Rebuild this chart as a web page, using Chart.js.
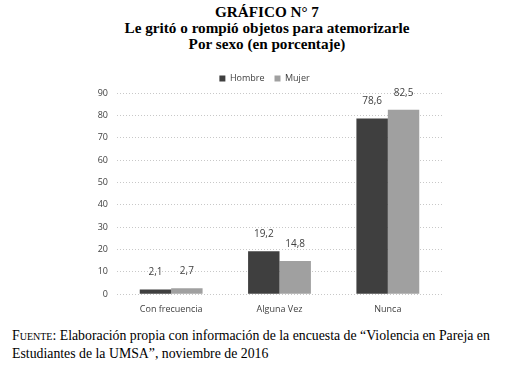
<!DOCTYPE html>
<html lang="es">
<head>
<meta charset="UTF-8" />
<title>Gráfico N° 7</title>
<script src="https://cdn.jsdelivr.net/npm/chart.js"></script>
<style>
  body { margin: 0; background: #fff; width: 518px; height: 379px; position: relative; overflow: hidden; }
  #titulo {
    position: absolute; left: 0; top: 4px; width: 534px; text-align: center;
    font-family: "Liberation Serif", "Times New Roman", serif; font-weight: bold;
    font-size: 15.2px; line-height: 16px; color: #000;
  }
  #grafico { position: absolute; left: 0; top: 64px; width: 518px; height: 253px; }
  #fuente {
    position: absolute; left: 12px; top: 327px; width: 500px;
    font-family: "Liberation Serif", "Times New Roman", serif; font-size: 13.8px;
    line-height: 18px; color: #000;
  }
  #fuente .sc { font-variant: small-caps; }
</style>
</head>
<body>
  <div id="titulo">GRÁFICO N° 7<br>Le gritó o rompió objetos para atemorizarle<br>Por sexo (en porcentaje)</div>
  <div id="grafico"><canvas id="barras"></canvas></div>
  <div id="fuente"><span class="sc">Fuente</span>: Elaboración propia con información de la encuesta de “Violencia en Pareja en Estudiantes de la UMSA”, noviembre de 2016</div>

  <script>
    const categorias = ['Con frecuencia', 'Alguna Vez', 'Nunca'];
    const hombre = [2.1, 19.2, 78.6];
    const mujer = [2.7, 14.8, 82.5];
    const ticksY = [0, 10, 20, 30, 40, 50, 60, 70, 80, 90];

    // etiquetas de valor sobre cada barra (coma decimal)
    const etiquetas = {
      id: 'etiquetas',
      afterDatasetsDraw(chart) {
        const ctx = chart.ctx;
        ctx.save();
        ctx.font = '10px "Open Sans", sans-serif';
        ctx.fillStyle = '#404040';
        ctx.textAlign = 'center';
        ctx.textBaseline = 'middle';
        chart.data.datasets.forEach((ds, i) => {
          chart.getDatasetMeta(i).data.forEach((bar, j) => {
            const txt = ds.data[j].toFixed(1).replace('.', ',');
            ctx.fillText(txt, bar.x, bar.y - 17);
          });
        });
        ctx.restore();
      }
    };

    const fuenteEje = { size: 9, family: '"Open Sans", sans-serif' };

    const ctx = document.getElementById('barras').getContext('2d');
    new Chart(ctx, {
      type: 'bar',
      data: {
        labels: categorias,
        datasets: [
          { label: 'Hombre', data: hombre, backgroundColor: '#3f3f3f' },
          { label: 'Mujer', data: mujer, backgroundColor: '#a0a0a0' }
        ]
      },
      options: {
        responsive: true,
        maintainAspectRatio: false,
        animation: false,
        categoryPercentage: 0.58,
        barPercentage: 1,
        layout: { padding: { left: 87, right: 76, top: 0, bottom: 0 } },
        scales: {
          x: {
            grid: { display: false },
            border: { display: false },
            ticks: { color: '#404040', font: fuenteEje, padding: 2 }
          },
          y: {
            min: 0,
            max: 90,
            afterBuildTicks: s => { s.ticks = ticksY.map(v => ({ value: v })); },
            afterFit: s => { s.width = 30; },
            border: { display: false, dash: [1, 2] },
            grid: { color: '#c8c8c8', lineWidth: 1, drawTicks: false },
            ticks: { color: '#404040', font: fuenteEje, padding: 9 }
          }
        },
        plugins: {
          legend: {
            position: 'top',
            labels: {
              color: '#404040',
              font: fuenteEje,
              boxWidth: 6, boxHeight: 6, padding: 10
            }
          },
          tooltip: { enabled: false }
        }
      },
      plugins: [etiquetas]
    });
  </script>
</body>
</html>
